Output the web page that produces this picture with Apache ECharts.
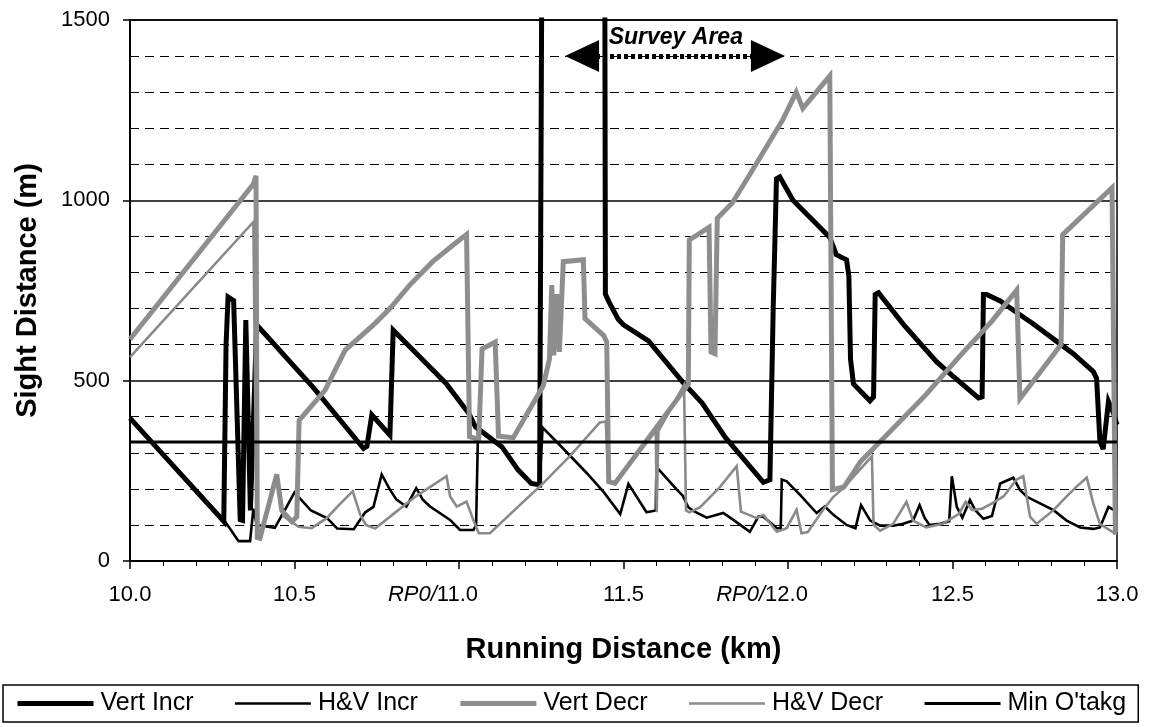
<!DOCTYPE html>
<html>
<head>
<meta charset="utf-8">
<script src="https://cdn.jsdelivr.net/npm/echarts@6/dist/echarts.min.js"></script>
<style>
  html, body { margin: 0; padding: 0; background: #fff; }
  #chart { width: 1152px; height: 727px; }
</style>
</head>
<body>
<div id="chart"></div>
<script>
// Running distance (km) vs sight distance (m), one array of [km, m] pairs per series.
const vertIncr = [
  [10.0, 396], [10.285, 110], [10.292, 600], [10.298, 732], [10.315, 722], [10.335, 115],
  [10.342, 113], [10.352, 668], [10.358, 668], [10.366, 140], [10.385, 655],
  [10.56, 478], [10.71, 312], [10.72, 318], [10.735, 405], [10.79, 349], [10.80, 640],
  [10.86, 585], [10.96, 493], [11.03, 409], [11.05, 372], [11.13, 317], [11.18, 252],
  [11.22, 215], [11.245, 211], [11.251, 215], [11.252, 1700], [11.443, 1700],
  [11.445, 740], [11.455, 720], [11.484, 670], [11.50, 655], [11.576, 610],
  [11.682, 494], [11.739, 438], [11.81, 342], [11.854, 295], [11.925, 218], [11.945, 225],
  [11.955, 700], [11.965, 1060], [11.975, 1065], [12.015, 1000], [12.086, 935],
  [12.127, 897], [12.147, 849], [12.178, 835], [12.185, 790], [12.19, 560], [12.199, 491],
  [12.249, 444], [12.26, 455], [12.265, 739], [12.275, 744], [12.35, 657], [12.452, 552],
  [12.503, 511], [12.579, 452], [12.59, 455], [12.594, 739], [12.604, 739], [12.645, 721],
  [12.695, 689], [12.746, 657], [12.827, 602], [12.867, 575], [12.928, 525], [12.938, 506],
  [12.948, 333], [12.958, 310], [12.974, 442], [12.989, 410], [13.0, 378]
];

const hvIncr = [
  [10.0, 396], [10.285, 115], [10.33, 55], [10.365, 55], [10.375, 145], [10.385, 100],
  [10.44, 92], [10.47, 140], [10.50, 190], [10.55, 140], [10.60, 118], [10.63, 90],
  [10.68, 88], [10.715, 135], [10.74, 150], [10.765, 240], [10.79, 198], [10.81, 170],
  [10.84, 151], [10.87, 202], [10.89, 170], [10.912, 151], [10.973, 114], [11.003, 86],
  [11.044, 86], [11.052, 100], [11.058, 370], [11.13, 317], [11.18, 252], [11.22, 215],
  [11.245, 211], [11.251, 215], [11.254, 370], [11.307, 321], [11.388, 244], [11.44, 191],
  [11.49, 130], [11.515, 214], [11.57, 135], [11.598, 140], [11.60, 261], [11.66, 200],
  [11.68, 181], [11.697, 149], [11.712, 139], [11.753, 120], [11.803, 133], [11.834, 114],
  [11.884, 81], [11.91, 123], [11.925, 123], [11.966, 91], [11.978, 91], [11.981, 226],
  [11.996, 221], [12.036, 184], [12.087, 133], [12.112, 151], [12.138, 128], [12.178, 100],
  [12.205, 91], [12.222, 155], [12.25, 112], [12.28, 98], [12.32, 98], [12.35, 103],
  [12.38, 112], [12.40, 155], [12.415, 120], [12.43, 100], [12.462, 103], [12.49, 110],
  [12.498, 235], [12.513, 150], [12.53, 120], [12.553, 169], [12.57, 140], [12.594, 117],
  [12.62, 125], [12.645, 215], [12.685, 231], [12.705, 197], [12.726, 178], [12.766, 160],
  [12.807, 141], [12.847, 112], [12.888, 93], [12.928, 89], [12.948, 93], [12.974, 150],
  [13.0, 136]
];

const vertDecr = [
  [10.0, 615], [10.375, 1045], [10.383, 1068], [10.387, 65], [10.395, 63], [10.446, 240],
  [10.461, 141], [10.492, 109], [10.507, 123], [10.514, 390], [10.593, 474], [10.654, 585],
  [10.745, 659], [10.79, 700], [10.85, 765], [10.92, 830], [10.983, 877], [11.023, 905],
  [11.032, 345], [11.06, 337], [11.07, 588], [11.11, 607], [11.12, 346], [11.165, 342],
  [11.256, 486], [11.275, 560], [11.282, 765], [11.288, 570], [11.298, 740], [11.305, 580],
  [11.317, 830], [11.378, 835], [11.383, 672], [11.44, 625], [11.449, 607], [11.455, 220],
  [11.474, 215], [11.697, 490], [11.70, 890], [11.76, 925], [11.766, 580], [11.778, 575],
  [11.785, 950], [11.83, 992], [11.882, 1069], [11.933, 1146], [11.984, 1223],
  [12.025, 1300], [12.045, 1255], [12.086, 1300], [12.127, 1345], [12.135, 198],
  [12.17, 205], [12.22, 275], [12.32, 368], [12.42, 462], [12.52, 566], [12.62, 665],
  [12.695, 751], [12.705, 450], [12.83, 600], [12.835, 905], [12.985, 1035],
  [12.995, 80], [13.0, 80]
];

const hvDecr = [
  [10.0, 565], [10.375, 940], [10.385, 65], [10.395, 63], [10.446, 240], [10.466, 125],
  [10.512, 95], [10.552, 91], [10.597, 118], [10.64, 160], [10.677, 193], [10.70, 128],
  [10.717, 100], [10.745, 90], [10.80, 130], [10.87, 180], [10.962, 235], [10.973, 179],
  [10.993, 151], [11.023, 165], [11.045, 110], [11.06, 77], [11.094, 77], [11.256, 216],
  [11.337, 291], [11.428, 384], [11.446, 387], [11.455, 220], [11.474, 218], [11.598, 360],
  [11.601, 135], [11.606, 360], [11.684, 488], [11.69, 140], [11.70, 135], [11.733, 149],
  [11.793, 205], [11.844, 263], [11.857, 137], [11.905, 119], [11.925, 128], [11.966, 81],
  [11.996, 91], [12.026, 142], [12.041, 77], [12.06, 80], [12.107, 142], [12.138, 178],
  [12.168, 202], [12.255, 290], [12.26, 100], [12.28, 84], [12.32, 103], [12.36, 164],
  [12.38, 112], [12.42, 93], [12.47, 103], [12.52, 131], [12.54, 164], [12.56, 141],
  [12.59, 145], [12.62, 160], [12.655, 179], [12.695, 226], [12.715, 235], [12.736, 122],
  [12.756, 103], [12.807, 141], [12.847, 179], [12.878, 207], [12.908, 231], [12.928, 160],
  [12.948, 103], [12.989, 79], [13.0, 84]
];

const minOvertaking = [[10.0, 330], [13.0, 330]];

// Survey area span (km) and the height (m) at which its arrow is drawn
const surveySpan = [11.374, 11.939];
const surveyArrowY = 1400;
const surveyLabelAt = [11.455, 1452];

// Kilometre posts labelled with a reference point prefix
const refPosts = [11.0, 12.0];
const refPrefix = 'RP0/';

const FONT = '"Liberation Sans", Arial, sans-serif';
const chart = echarts.init(document.getElementById('chart'), null, { renderer: 'canvas' });

// Line look of each series: colour and stroke width
const styles = {
  'Vert Incr': { color: '#000', width: 5 },
  'H&V Incr': { color: '#000', width: 2.6 },
  'Vert Decr': { color: '#8e8e8e', width: 5 },
  'H&V Decr': { color: '#8a8a8a', width: 2.6 },
  "Min O'takg": { color: '#000', width: 3 }
};

const lineSeries = (name, data) => ({
  name, type: 'line', data, symbol: 'none', showSymbol: false,
  lineStyle: { color: styles[name].color, width: styles[name].width, join: 'miter', miterLimit: 4 },
  itemStyle: { color: styles[name].color }, emphasis: { disabled: true }, animation: false, clip: true
});

chart.setOption({
  animation: false,
  backgroundColor: '#fff',
  textStyle: { fontFamily: FONT },
  grid: { left: 130, top: 20, right: 35, bottom: 166, show: true, borderColor: '#000', borderWidth: 1.5, backgroundColor: 'transparent' },
  xAxis: {
    type: 'value', min: 10, max: 13, interval: 0.5,
    name: 'Running Distance (km)', nameLocation: 'middle', nameGap: 74,
    nameTextStyle: { fontFamily: FONT, fontSize: 29, fontWeight: 'bold', color: '#000' },
    axisLine: { show: true, lineStyle: { color: '#000', width: 2 } },
    axisTick: { show: true, length: 8, lineStyle: { color: '#000', width: 1.5 } },
    minorTick: { show: true, splitNumber: 5, length: 5, lineStyle: { color: '#000', width: 1 } },
    splitLine: { show: false },
    axisLabel: {
      margin: 23, fontFamily: FONT, fontSize: 22, color: '#000',
      formatter: v => {
        const t = v.toFixed(1);
        return refPosts.some(r => Math.abs(r - v) < 1e-6) ? `{rp|${refPrefix}}${t}{pad| }` : t;
      },
      rich: {
        rp: { fontFamily: FONT, fontSize: 22, fontStyle: 'italic', color: '#000' },
        pad: { width: 52 }
      }
    }
  },
  yAxis: {
    type: 'value', min: 0, max: 1500, interval: 500,
    name: 'Sight Distance (m)', nameLocation: 'middle', nameGap: 88,
    nameTextStyle: { fontFamily: FONT, fontSize: 29, fontWeight: 'bold', color: '#000' },
    axisLine: { show: true, lineStyle: { color: '#000', width: 2 } },
    axisTick: { show: true, length: 7, lineStyle: { color: '#000', width: 1.5 } },
    axisLabel: { margin: 20, fontFamily: FONT, fontSize: 22, color: '#000', formatter: v => String(v) },
    splitLine: { show: true, lineStyle: { color: '#000', width: 1.5 } },
    minorTick: { show: false, splitNumber: 5 },
    minorSplitLine: { show: true, lineStyle: { color: '#000', width: 1.2, type: [9, 6] } }
  },
  legend: {
    data: Object.keys(styles).map(name => ({
      name,
      lineStyle: { color: styles[name].color, width: styles[name].width, type: 'solid' },
      itemStyle: { opacity: 0, borderWidth: 0 }
    })),
    left: 3, top: 685, orient: 'horizontal',
    padding: [6, 12], itemGap: 40, itemWidth: 76, itemHeight: 14,
    borderColor: '#000', borderWidth: 1.5,
    textStyle: { fontFamily: FONT, fontSize: 25, color: '#000', padding: [0, 0, 0, 2] },
    selectedMode: false
  },
  series: [
    lineSeries('Vert Incr', vertIncr),
    lineSeries('H&V Incr', hvIncr),
    lineSeries('Vert Decr', vertDecr),
    lineSeries('H&V Decr', hvDecr),
    lineSeries("Min O'takg", minOvertaking),
    {
      name: 'Survey Area', type: 'line', data: [], silent: true, animation: false,
      markLine: {
        silent: true, animation: false,
        symbol: ['triangle', 'triangle'], symbolSize: [32, 34],
        lineStyle: { color: '#000', width: 5, type: [4, 3] },
        label: { show: false },
        data: [[{ coord: [surveySpan[0], surveyArrowY] }, { coord: [surveySpan[1], surveyArrowY] }]]
      },
      markPoint: {
        silent: true, animation: false, symbol: 'circle', symbolSize: 0,
        data: [{ coord: surveyLabelAt }],
        label: {
          show: true, position: 'right', distance: 0, formatter: 'Survey Area',
          fontFamily: FONT, fontSize: 23, fontWeight: 'bold', fontStyle: 'italic', color: '#000'
        }
      }
    }
  ]
});
</script>
</body>
</html>
